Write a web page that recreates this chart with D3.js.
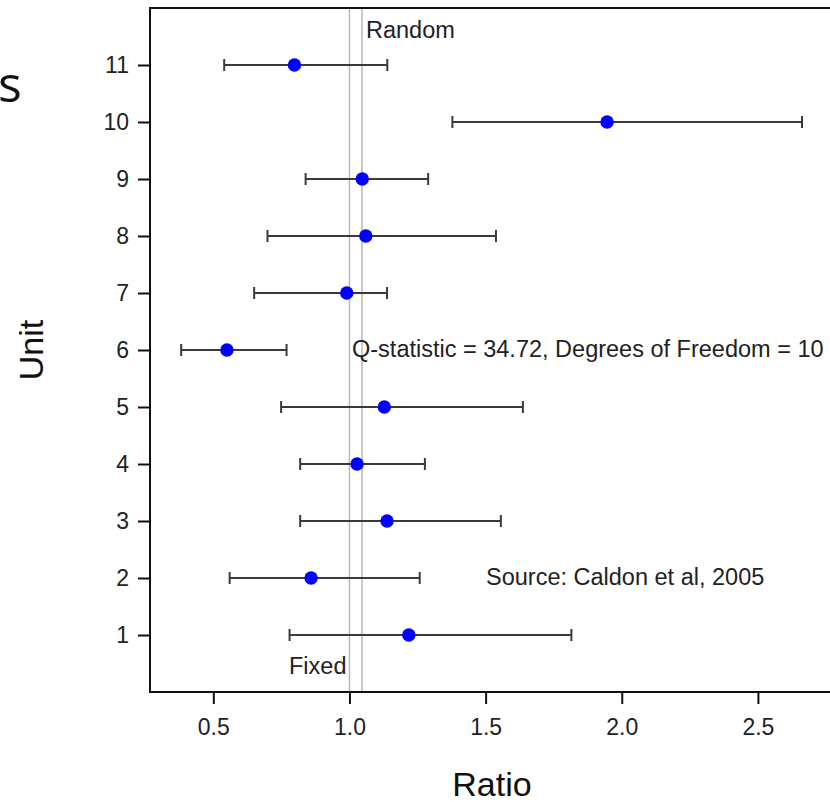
<!DOCTYPE html>
<html>
<head>
<meta charset="utf-8">
<script src="https://cdn.jsdelivr.net/npm/d3@7"></script>
<style>
  body { margin: 0; background: #fff; }
  svg { display: block; font-family: "Liberation Sans", Arial, sans-serif; }
</style>
</head>
<body>
<svg width="830" height="802"></svg>
<script>
// data
var units = [1, 2, 3, 4, 5, 6, 7, 8, 9, 10, 11];
var ratio = [1.218, 0.859, 1.138, 1.028, 1.128, 0.550, 0.990, 1.060, 1.047, 1.946, 0.798];
var lower = [0.780, 0.560, 0.819, 0.819, 0.749, 0.382, 0.650, 0.699, 0.839, 1.378, 0.540];
var upper = [1.815, 1.258, 1.556, 1.277, 1.637, 0.769, 1.138, 1.538, 1.289, 2.662, 1.139];
var xTicks = [0.5, 1.0, 1.5, 2.0, 2.5];
var fixedEst = 1.0;
var randomEst = 1.046;

var svg = d3.select("svg");

var plotLeft = 150, plotTop = 8, plotBottom = 692;
var x = d3.scaleLinear().domain([0.2675, 2.85]).range([plotLeft, plotLeft + 2.5825 * 272.3]);
var y = d3.scaleLinear().domain([0, 12]).range([plotBottom, plotTop]);

var rows = units.map(function (u, i) {
  return { unit: u, ratio: ratio[i], lo: lower[i], hi: upper[i] };
});

// partial title glyph at the left edge
svg.append("text")
  .attr("x", -2)
  .attr("y", 102)
  .attr("font-family", "'Open Sans', sans-serif")
  .attr("font-size", 50)
  .attr("fill", "#111")
  .text("s");

// reference lines (fixed / random)
svg.selectAll("line.ref")
  .data([fixedEst, randomEst])
  .enter().append("line")
  .attr("class", "ref")
  .attr("x1", function (d) { return x(d); })
  .attr("x2", function (d) { return x(d); })
  .attr("y1", plotTop)
  .attr("y2", plotBottom)
  .attr("stroke", "#b8b8b8")
  .attr("stroke-width", 1.5);

// frame
svg.append("rect")
  .attr("x", plotLeft)
  .attr("y", plotTop)
  .attr("width", x.range()[1] - plotLeft)
  .attr("height", plotBottom - plotTop)
  .attr("fill", "none")
  .attr("stroke", "#111")
  .attr("stroke-width", 2);

// axes
var xAxis = d3.axisBottom(x)
  .tickValues(xTicks)
  .tickFormat(d3.format(".1f"))
  .tickSize(12)
  .tickPadding(15);
var gx = svg.append("g")
  .attr("transform", "translate(0," + plotBottom + ")")
  .call(xAxis);
gx.select(".domain").remove();

var yAxis = d3.axisLeft(y)
  .tickValues(units)
  .tickFormat(d3.format("d"))
  .tickSize(12)
  .tickPadding(9);
var gy = svg.append("g")
  .attr("transform", "translate(" + plotLeft + ",0)")
  .call(yAxis);
gy.select(".domain").remove();

svg.selectAll(".tick line").attr("stroke", "#111").attr("stroke-width", 2);
svg.selectAll(".tick text")
  .attr("font-size", 23)
  .attr("font-family", "'Liberation Sans', Arial, sans-serif")
  .attr("fill", "#222");

// error bars
var bars = svg.append("g").selectAll("g")
  .data(rows)
  .enter().append("g");

bars.append("line")
  .attr("x1", function (d) { return x(d.lo); })
  .attr("x2", function (d) { return x(d.hi); })
  .attr("y1", function (d) { return y(d.unit); })
  .attr("y2", function (d) { return y(d.unit); })
  .attr("stroke", "#3a3a3a")
  .attr("stroke-width", 2);

bars.selectAll("line.cap")
  .data(function (d) { return [{ v: d.lo, u: d.unit }, { v: d.hi, u: d.unit }]; })
  .enter().append("line")
  .attr("class", "cap")
  .attr("x1", function (d) { return x(d.v); })
  .attr("x2", function (d) { return x(d.v); })
  .attr("y1", function (d) { return y(d.u) - 6; })
  .attr("y2", function (d) { return y(d.u) + 6; })
  .attr("stroke", "#3a3a3a")
  .attr("stroke-width", 2);

bars.append("circle")
  .attr("cx", function (d) { return x(d.ratio); })
  .attr("cy", function (d) { return y(d.unit); })
  .attr("r", 6.7)
  .attr("fill", "#0000ff");

// annotations
var notes = [
  { t: "Random", x: 366, y: 38 },
  { t: "Fixed", x: 289, y: 674 },
  { t: "Q-statistic = 34.72, Degrees of Freedom = 10", x: 352, y: 357 },
  { t: "Source: Caldon et al, 2005", x: 486, y: 585 }
];
svg.selectAll("text.note")
  .data(notes)
  .enter().append("text")
  .attr("class", "note")
  .attr("x", function (d) { return d.x; })
  .attr("y", function (d) { return d.y; })
  .attr("font-size", 23.5)
  .attr("fill", "#222")
  .text(function (d) { return d.t; });

// axis titles
svg.append("text")
  .attr("x", 492)
  .attr("y", 796)
  .attr("text-anchor", "middle")
  .attr("font-size", 34)
  .attr("fill", "#111")
  .text("Ratio");

svg.append("text")
  .attr("transform", "translate(43,350) rotate(-90)")
  .attr("text-anchor", "middle")
  .attr("font-size", 34)
  .attr("fill", "#111")
  .text("Unit");
</script>
</body>
</html>
